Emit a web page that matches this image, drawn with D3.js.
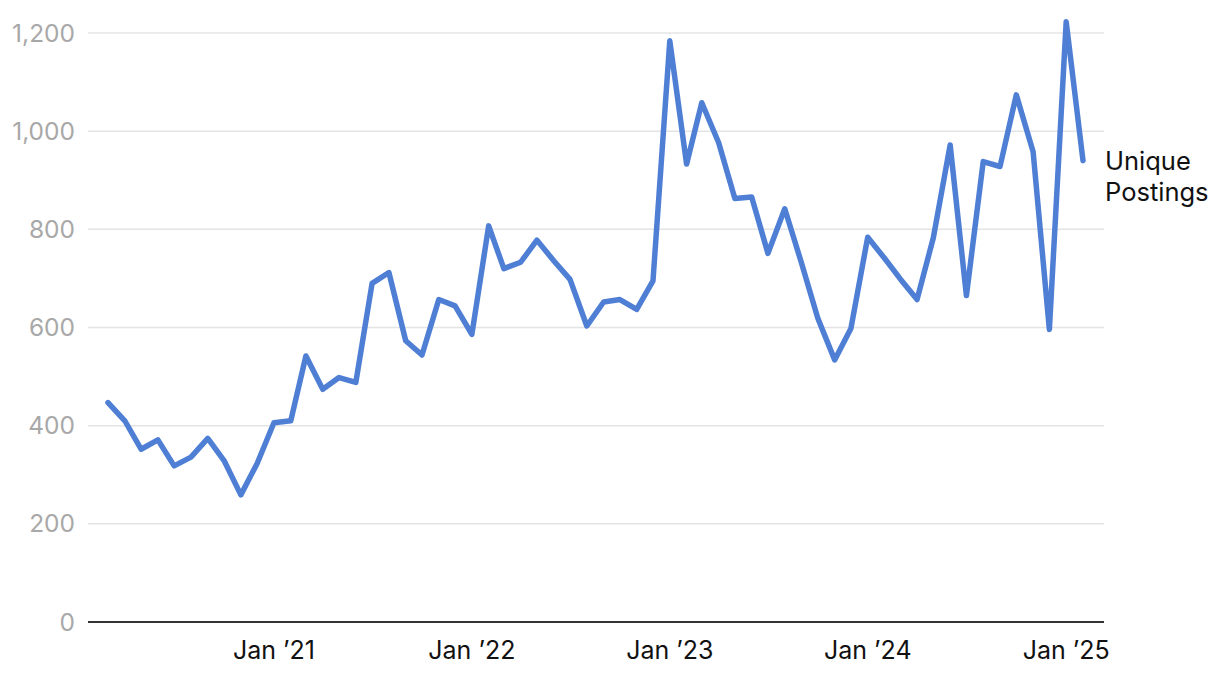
<!DOCTYPE html>
<html lang="en">
<head>
  <meta charset="utf-8">
  <title>Unique Postings</title>
  <style>
    body { margin: 0; background: #fff; }
    svg text { font-family: Inter, "Noto Sans", sans-serif; }
  </style>
</head>
<body>
<div id="chart"></div>

<script src="https://cdn.jsdelivr.net/npm/d3@7"></script>
<script>
    ////////////////////////////////////////////////// DATA
    var startMonth = "2020-03";   // first month in the series
    var postings = [
        447, 410, 352, 371, 318, 336, 374, 329, 259, 323,            // Mar-Dec 2020
        406, 410, 542, 474, 498, 488, 690, 712, 573, 544, 657, 644,  // 2021
        586, 807, 720, 733, 778, 736, 698, 603, 652, 657, 637, 695,  // 2022
        1184, 933, 1058, 977, 863, 866, 751, 842, 731, 619, 534, 598, // 2023
        784, 741, 699, 657, 783, 972, 665, 938, 928, 1074, 958, 596, // 2024
        1223, 940                                                    // Jan-Feb 2025
    ];
    var yTicks = [0, 200, 400, 600, 800, 1000, 1200];
    var xTickLabels = ["Jan \u201921", "Jan \u201922", "Jan \u201923", "Jan \u201924", "Jan \u201925"];
    var seriesLabel = ["Unique", "Postings"];

    ////////////////////////////////////////////////// SETUP
    var width = 1220, height = 676;
    var plotLeft = 88, plotRight = 1104;

    var parseMonth = d3.utcParse("%Y-%m");
    var first = parseMonth(startMonth);
    var data = postings.map(function(v, i) {
        return { date: d3.utcMonth.offset(first, i), value: v };
    });

    var x = d3.scaleUtc()
        .domain([data[0].date, data[data.length - 1].date])
        .range([108, 1083]);

    var y = d3.scaleLinear()
        .domain([0, 1200])
        .range([622, 33]);

    var svg = d3.select("#chart").append("svg")
        .attr("width", width)
        .attr("height", height);

    // grid lines
    svg.append("g")
        .selectAll("line")
        .data(yTicks.filter(function(d) { return d > 0; }))
        .join("line")
        .attr("x1", plotLeft)
        .attr("x2", plotRight)
        .attr("y1", function(d) { return y(d); })
        .attr("y2", function(d) { return y(d); })
        .attr("stroke", "#e4e4e4")
        .attr("stroke-width", 1.5);

    // y labels
    svg.append("g")
        .selectAll("text")
        .data(yTicks)
        .join("text")
        .attr("x", 75)
        .attr("y", function(d) { return y(d); })
        .attr("dy", "0.35em")
        .attr("text-anchor", "end")
        .attr("font-size", 24.5)
        .attr("fill", "#a8a8a8")
        .text(d3.format(","));

    // baseline
    svg.append("line")
        .attr("x1", plotLeft)
        .attr("x2", plotRight)
        .attr("y1", y(0))
        .attr("y2", y(0))
        .attr("stroke", "#333")
        .attr("stroke-width", 2);

    // x labels at each January
    var januaries = d3.utcYears(d3.utcYear.ceil(data[0].date), d3.utcMonth.offset(data[data.length - 1].date, 1));
    svg.append("g")
        .selectAll("text")
        .data(januaries)
        .join("text")
        .attr("x", function(d) { return x(d); })
        .attr("y", 650)
        .attr("dy", "0.35em")
        .attr("text-anchor", "middle")
        .attr("font-size", 25)
        .attr("fill", "#111")
        .text(function(d, i) { return xTickLabels[i]; });

    // the line
    var line = d3.line()
        .x(function(d) { return x(d.date); })
        .y(function(d) { return y(d.value); });

    svg.append("path")
        .datum(data)
        .attr("fill", "none")
        .attr("stroke", "#4f7fd5")
        .attr("stroke-width", 5.5)
        .attr("stroke-linejoin", "round")
        .attr("stroke-linecap", "round")
        .attr("d", line);

    // series label
    svg.append("text")
        .attr("x", 1105)
        .attr("y", 162)
        .attr("font-size", 25.5)
        .attr("fill", "#111")
        .selectAll("tspan")
        .data(seriesLabel)
        .join("tspan")
        .attr("x", 1105)
        .attr("dy", function(d, i) { return i ? 31 : 8; })
        .text(function(d) { return d; });
</script>
</body>
</html>
